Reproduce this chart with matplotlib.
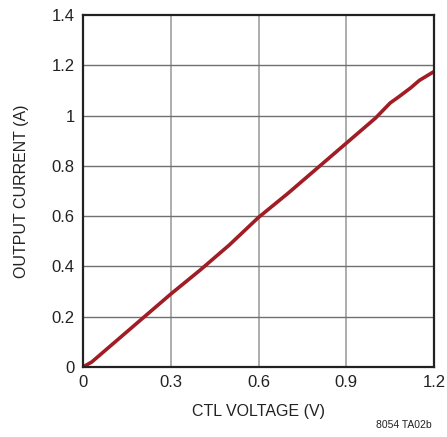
import matplotlib.pyplot as plt

ctl_voltage = [0, 0.03, 0.1, 0.2, 0.3, 0.4, 0.5, 0.6, 0.7, 0.8, 0.9, 0.95, 1.0, 1.05, 1.08, 1.12, 1.15, 1.2]
output_current = [0, 0.02, 0.09, 0.19, 0.29, 0.385, 0.485, 0.595, 0.69, 0.79, 0.89, 0.94, 0.99, 1.05, 1.075, 1.11, 1.14, 1.175]

x_ticks = [0, 0.3, 0.6, 0.9, 1.2]
x_labels = ['0', '0.3', '0.6', '0.9', '1.2']
y_ticks = [0, 0.2, 0.4, 0.6, 0.8, 1.0, 1.2, 1.4]
y_labels = ['0', '0.2', '0.4', '0.6', '0.8', '1', '1.2', '1.4']

plt.rcParams['font.family'] = ['Liberation Sans Narrow', 'Liberation Sans', 'DejaVu Sans']

fig = plt.figure(figsize=(4.47, 4.37), dpi=100)
ax = fig.add_axes([83 / 447, 70 / 437, 351 / 447, 352 / 437])

ax.plot(ctl_voltage, output_current, color='#a11d25', linewidth=2.6, solid_capstyle='round')

ax.set_xlim(0, 1.2)
ax.set_ylim(0, 1.4)
ax.set_xticks(x_ticks)
ax.set_xticklabels(x_labels)
ax.set_yticks(y_ticks)
ax.set_yticklabels(y_labels)
ax.tick_params(length=0, labelsize=12, colors='#222222', pad=6)

for v in x_ticks[1:-1]:
    ax.axvline(v, color='#a0a0a0', linewidth=1.2, zorder=0)
for v in y_ticks[1:-1]:
    ax.axhline(v, color='#707070', linewidth=1, zorder=0)

for s in ax.spines.values():
    s.set_linewidth(1.6)
    s.set_color('#222222')

ax.set_xlabel('CTL VOLTAGE (V)', fontsize=11.5, color='#222222', labelpad=10)
ax.set_ylabel('OUTPUT CURRENT (A)', fontsize=11.5, color='#222222', labelpad=16)

fig.text(432 / 447, 1 - 430 / 437, '8054 TA02b', fontsize=7.5, ha='right', va='bottom', color='#222222')

fig.savefig('out.png', dpi=100)
